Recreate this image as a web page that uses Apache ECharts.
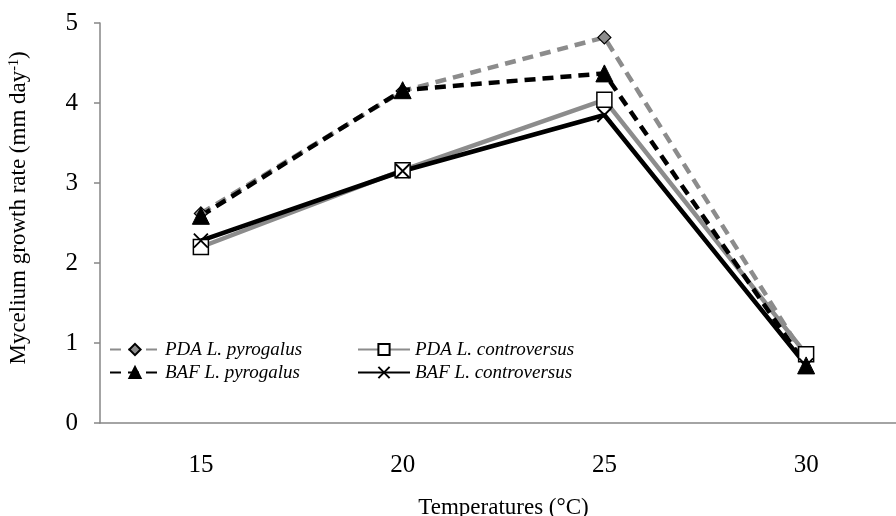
<!DOCTYPE html>
<html><head><meta charset="utf-8">
<script src="https://cdn.jsdelivr.net/npm/echarts@6/dist/echarts.min.js"></script>
<style>html,body{margin:0;padding:0;background:#fff}#c{width:896px;height:516px}</style>
</head><body><div id="c"></div>
<script>
const categories = ['15', '20', '25', '30'];
const pdaPyrogalus = [2.62, 4.15, 4.82, 0.8];
const pdaControversus = [2.2, 3.16, 4.04, 0.86];
const bafPyrogalus = [2.59, 4.16, 4.37, 0.72];
const bafControversus = [2.28, 3.15, 3.85, 0.72];
const yTicks = [0, 1, 2, 3, 4, 5];

const FONT = '"Liberation Serif", "Times New Roman", serif';
const chart = echarts.init(document.getElementById('c'), null, {renderer: 'canvas'});
const names = ['PDA L. pyrogalus', 'PDA L. controversus', 'BAF L. pyrogalus', 'BAF L. controversus'];
chart.setOption({
  animation: false,
  backgroundColor: '#fff',
  grid: {left: 100, right: -11, top: 23, bottom: 93, containLabel: false, outerBoundsMode: 'none'},
  xAxis: {
    type: 'category', data: categories, boundaryGap: true,
    axisLine: {lineStyle: {color: '#868686', width: 1.5}},
    axisTick: {alignWithLabel: true, length: 6, lineStyle: {color: '#868686', width: 1.5}},
    axisLabel: {fontFamily: FONT, fontSize: 25, color: '#000', margin: 30},
    name: 'Temperatures (°C)', nameLocation: 'middle', nameGap: 73,
    nameTextStyle: {fontFamily: FONT, fontSize: 23, color: '#000'}
  },
  yAxis: {
    type: 'value', min: yTicks[0], max: yTicks[yTicks.length - 1], interval: 1,
    splitLine: {show: false},
    axisLine: {show: true, lineStyle: {color: '#868686', width: 1.5}},
    axisTick: {show: true, length: 6, lineStyle: {color: '#868686', width: 1.5}},
    axisLabel: {fontFamily: FONT, fontSize: 25, color: '#000', margin: 22},
    name: 'Mycelium growth rate (mm day{s|-1})', nameLocation: 'middle', nameGap: 69,
    nameTextStyle: {fontFamily: FONT, fontSize: 23, color: '#000', padding: [0, 0, 0, 30],
      rich: {s: {fontFamily: FONT, fontSize: 14, verticalAlign: 'top', padding: [0, 0, 10, 0], color: '#000'}}}
  },
  legend: [
    {orient: 'vertical', left: 104, top: 335, itemWidth: 50, itemHeight: 14, itemGap: 4,
     data: [names[0], names[2]],
     textStyle: {fontFamily: FONT, fontSize: 19, fontStyle: 'italic', color: '#000'}},
    {orient: 'vertical', left: 352, top: 335, itemWidth: 52, itemHeight: 14, itemGap: 4,
     data: [names[1], names[3]],
     textStyle: {fontFamily: FONT, fontSize: 19, fontStyle: 'italic', color: '#000'}}
  ],
  series: [
    {name: names[0], type: 'line', data: pdaPyrogalus, symbol: 'diamond', symbolSize: 13,
     lineStyle: {color: '#8c8c8c', width: 4.5, type: [11, 7]},
     itemStyle: {color: '#8c8c8c', borderColor: '#000', borderWidth: 1.2}},
    {name: names[1], type: 'line', data: pdaControversus, symbol: 'rect', symbolSize: 15,
     lineStyle: {color: '#8c8c8c', width: 4.5},
     itemStyle: {color: '#fff', borderColor: '#000', borderWidth: 1.5}},
    {name: names[2], type: 'line', data: bafPyrogalus, symbol: 'triangle', symbolSize: 17,
     lineStyle: {color: '#000', width: 4.5, type: [11, 7]},
     itemStyle: {color: '#000', borderColor: '#000', borderWidth: 1}},
    {name: names[3], type: 'line', data: bafControversus, symbol: 'path://M0,0L10,10M10,0L0,10', symbolSize: 14,
     lineStyle: {color: '#000', width: 4.5},
     itemStyle: {color: '#000', borderColor: '#000', borderWidth: 1.8}}
  ]
});
</script></body></html>
